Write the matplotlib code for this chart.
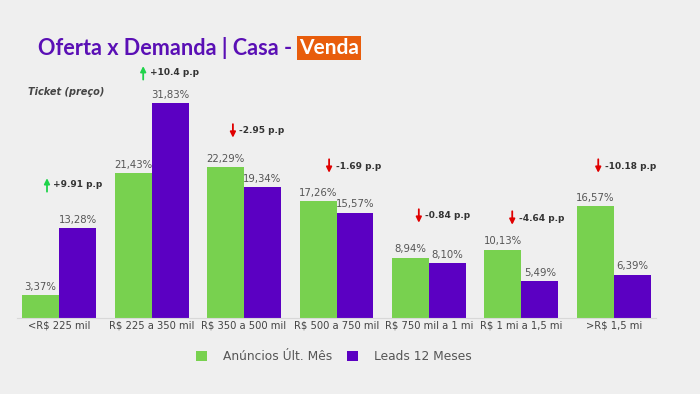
import matplotlib.pyplot as plt
import numpy as np

categories = ["<R$ 225 mil", "R$ 225 a 350 mil", "R$ 350 a 500 mil", "R$ 500 a 750 mil",
              "R$ 750 mil a 1 mi", "R$ 1 mi a 1,5 mi", ">R$ 1,5 mi"]
anuncios = [3.37, 21.43, 22.29, 17.26, 8.94, 10.13, 16.57]
leads = [13.28, 31.83, 19.34, 15.57, 8.10, 5.49, 6.39]
deltas = ["+9.91 p.p", "+10.4 p.p", "-2.95 p.p", "-1.69 p.p", "-0.84 p.p", "-4.64 p.p", "-10.18 p.p"]
delta_x = [-0.13, 0.91, 1.88, 2.92, 3.89, 4.90, 5.83]
delta_y = [19.7, 36.3, 27.7, 22.5, 15.1, 14.8, 22.5]

green = "#78d14f"
purple = "#5b00c2"
bg = "#efefef"

fig = plt.figure(figsize=(7, 3.94), dpi=100, facecolor=bg)
ax = fig.add_axes([17.4 / 700, 0.193, 638.2 / 700, 0.617])
ax.set_facecolor(bg)

x = np.arange(len(categories))
w = 0.4
b1 = ax.bar(x - w / 2, anuncios, w, color=green, label="Anúncios Últ. Mês")
b2 = ax.bar(x + w / 2, leads, w, color=purple, label="Leads 12 Meses")

def fmt(v):
    return f"{v:.2f}%".replace(".", ",")

for bars, vals in [(b1, anuncios), (b2, leads)]:
    for r, v in zip(bars, vals):
        ax.text(r.get_x() + r.get_width() / 2, v + 0.5, fmt(v), ha="center", va="bottom",
                fontsize=7.3, color="#555555")

for dx, dy, t in zip(delta_x, delta_y, deltas):
    up = t.startswith("+")
    col = "#1fd34a" if up else "#e00000"
    y0, y1 = (dy - 1.0, dy + 1.0) if up else (dy + 1.0, dy - 1.0)
    ax.annotate("", xy=(dx, y1), xytext=(dx, y0),
                arrowprops=dict(arrowstyle="-|>", color=col, lw=1.3, mutation_scale=8,
                                shrinkA=0, shrinkB=0),
                annotation_clip=False)
    ax.text(dx + 0.07, dy, t, ha="left", va="center", fontsize=6.5, fontweight="bold",
            color="#333333", clip_on=False)

ax.set_xlim(-0.45, 6.45)
ax.set_ylim(0, 36)
ax.set_xticks(x)
ax.set_xticklabels(categories, fontsize=7.2, color="#444444")
ax.tick_params(axis="x", length=0, pad=2)
ax.set_yticks([])
for s in ["top", "right", "left"]:
    ax.spines[s].set_visible(False)
ax.spines["bottom"].set_color("#d8d8d8")

fig.text(38 / 700, 1 - 48 / 394, "Oferta x Demanda | Casa - ", fontsize=15.6, fontweight="bold",
         color="#5a0fb5", family="Lato", va="center", ha="left")
fig.text(299 / 700, 1 - 48 / 394, "Venda", fontsize=15, fontweight="bold", color="white",
         family="Lato", va="center", ha="left",
         bbox=dict(boxstyle="square,pad=0.08", facecolor="#e85d0c", edgecolor="none"))
fig.text(28 / 700, 1 - 92 / 394, "Ticket (preço)", fontsize=7, fontweight="bold",
         fontstyle="italic", color="#444444", va="center")

leg = fig.legend(handles=[b1, b2], loc="center", bbox_to_anchor=(0.477, 1 - 357 / 394), ncol=2,
                 frameon=False, fontsize=8.8, handlelength=0.9, handleheight=0.9,
                 columnspacing=1.2, handletextpad=1.3)
for t in leg.get_texts():
    t.set_color("#555555")

fig.savefig("out.png", dpi=100, facecolor=bg)
